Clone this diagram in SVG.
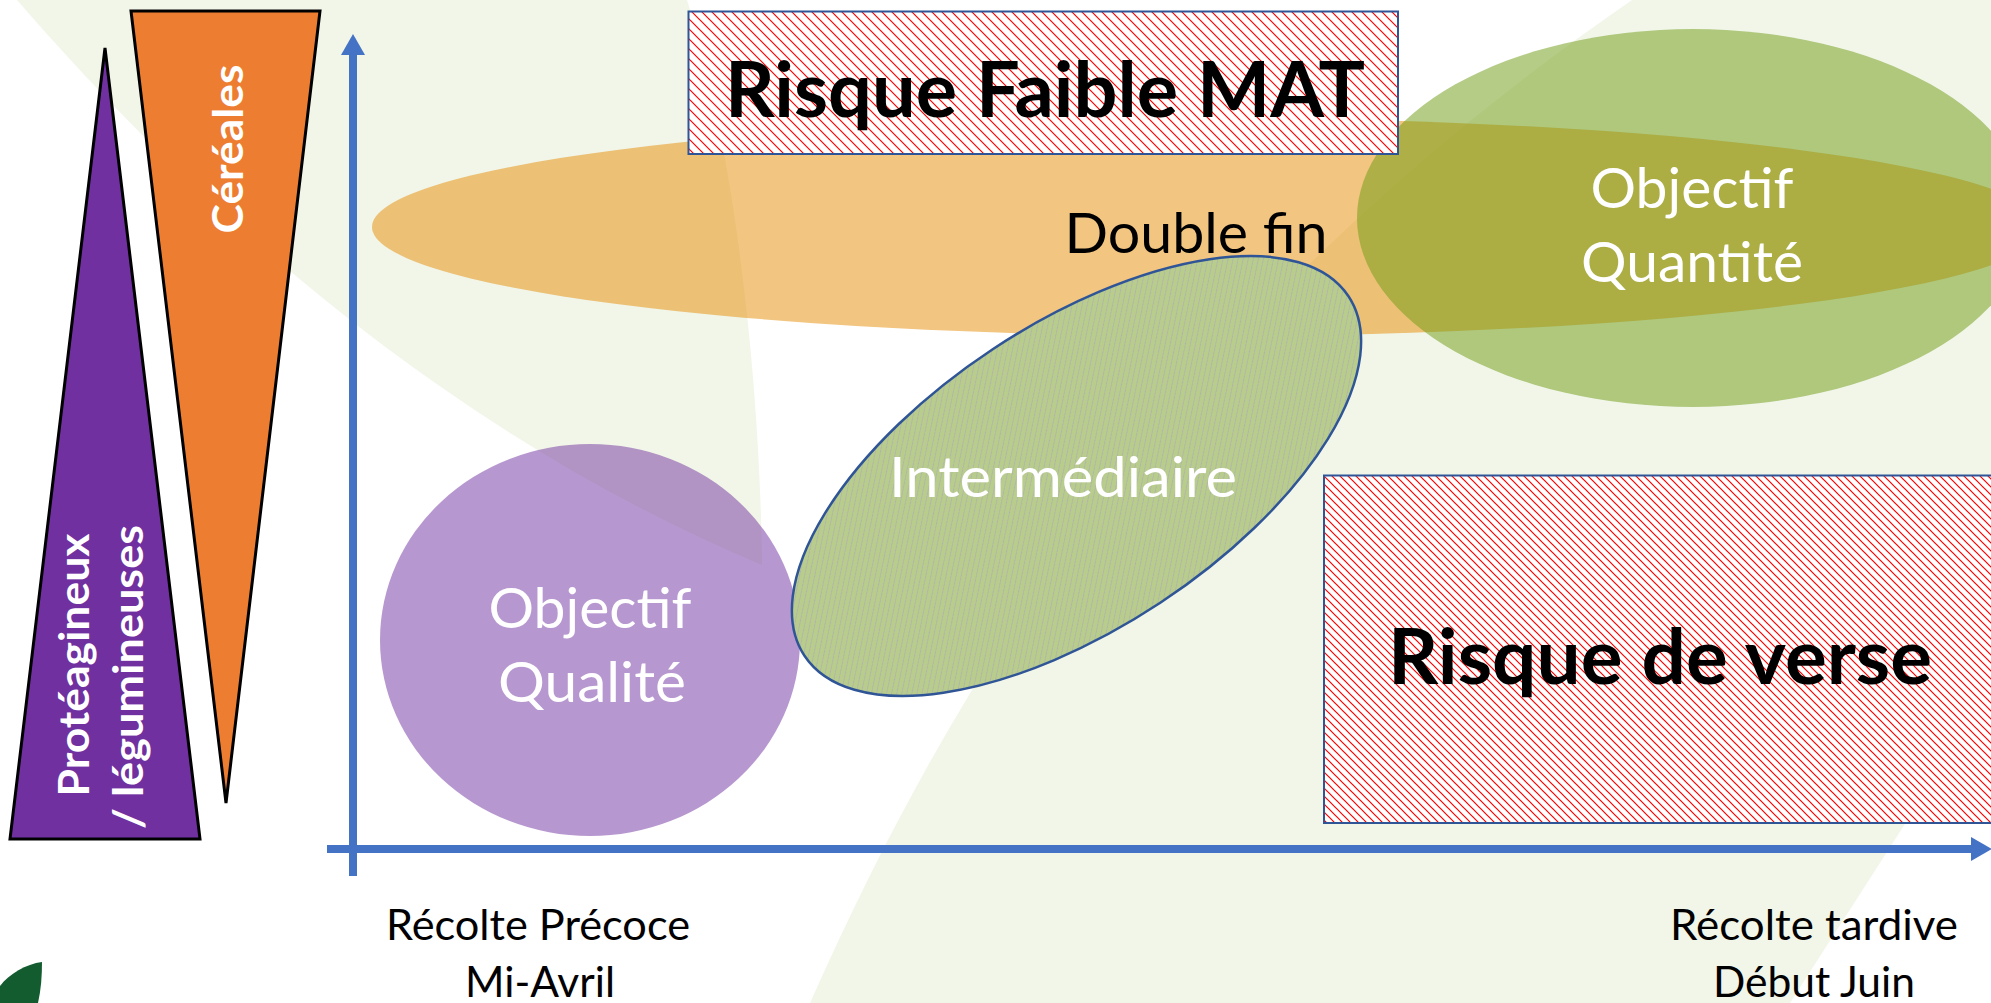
<svg xmlns="http://www.w3.org/2000/svg" width="1991" height="1003" viewBox="0 0 1991 1003">
  <style>
    .sans { font-family: Lato, "Liberation Sans", sans-serif; }
    .white { fill: #FFFFFF; }
    .black { fill: #000000; }
    .zone-lbl { font-size: 56px; text-anchor: middle; }
    .axis-lbl { font-size: 42px; text-anchor: middle; }
    .risk-lbl { font-size: 76px; font-weight: 700; text-anchor: middle; }
    .tri-lbl { font-size: 42px; font-weight: 700; text-anchor: middle; }
    .axis { stroke: #4472C4; stroke-width: 8; fill: none; }
    .bg { fill: #F2F6E9; }
  </style>
  <defs>
    <!-- red downward diagonal hatch on white -->
    <pattern id="hatchRed" patternUnits="userSpaceOnUse" width="10" height="10">
      <rect width="10" height="10" fill="#FFFFFF"/>
      <path d="M0,0 L10,10 M-1,9 L1,11 M9,-1 L11,1" stroke="#FF0000" stroke-width="1.2"/>
    </pattern>
    <pattern id="hatchRedFine" patternUnits="userSpaceOnUse" width="8" height="8">
      <rect width="8" height="8" fill="#FFFFFF"/>
      <path d="M0,0 L8,8 M-1,7 L1,9 M7,-1 L9,1" stroke="#FF0000" stroke-width="1.2"/>
    </pattern>
    <!-- faint purple upward diagonal hatch on green -->
    <pattern id="hatchPurple" patternUnits="userSpaceOnUse" width="7" height="7">
      <rect width="7" height="7" fill="#B8CD8C"/>
      <path d="M0,7 L7,0 M-1,1 L1,-1 M6,8 L8,6" stroke="#A898CC" stroke-width="0.8" stroke-opacity="0.7"/>
    </pattern>
    <marker id="arrow" markerUnits="userSpaceOnUse" markerWidth="22" markerHeight="24" refX="1" refY="12" orient="auto">
      <path d="M0,0 L21,12 L0,24 Z" fill="#4472C4"/>
    </marker>
  </defs>

  <!-- page background -->
  <rect width="1991" height="1003" fill="#FFFFFF"/>
  <g id="backdrop">
    <path class="bg" d="M17,0 C190,200 440,430 762,565 C760,380 735,150 687,0 Z"/>
    <path class="bg" d="M1632,0 L1991,0 L1991,690 L1790,1003 L810,1003 C972,637 1200,298 1632,0 Z"/>
    <path d="M42,962 C26,964 9,974 0,986 L0,1003 L38,1003 C41,990 42,976 42,962 Z" fill="#135C30"/>
  </g>

  <!-- crop family wedges -->
  <g id="wedge-legumes">
    <polygon points="105,48 10,839 200,839" fill="#7030A0" stroke="#000000" stroke-width="3"/>
    <text class="sans tri-lbl white" transform="translate(89,665) rotate(-90)" textLength="263" lengthAdjust="spacingAndGlyphs">Protéagineux</text>
    <text class="sans tri-lbl white" transform="translate(143,677) rotate(-90)" textLength="304" lengthAdjust="spacingAndGlyphs">/ légumineuses</text>
  </g>
  <g id="wedge-cereales">
    <polygon points="131,11 320,11 226,803" fill="#ED7D31" stroke="#000000" stroke-width="3"/>
    <text class="sans tri-lbl white" transform="translate(243,149) rotate(-90)" textLength="169" lengthAdjust="spacingAndGlyphs">Céréales</text>
  </g>

  <!-- zones -->
  <g id="zone-double-fin">
    <ellipse cx="1208" cy="227" rx="836" ry="109" fill="#E58C02" fill-opacity="0.5"/>
  </g>
  <g id="zone-quantite">
    <ellipse cx="1693" cy="218" rx="336" ry="189" fill="#6B9A10" fill-opacity="0.5"/>
    <text class="sans zone-lbl white" x="1692" y="208" textLength="203" lengthAdjust="spacingAndGlyphs">Objectif</text>
    <text class="sans zone-lbl white" x="1692" y="282" textLength="222" lengthAdjust="spacingAndGlyphs">Quantité</text>
  </g>
  <g id="zone-qualite">
    <ellipse cx="590" cy="640" rx="210" ry="196" fill="#7030A0" fill-opacity="0.5"/>
    <text class="sans zone-lbl white" x="590" y="628" textLength="203" lengthAdjust="spacingAndGlyphs">Objectif</text>
    <text class="sans zone-lbl white" x="592" y="702" textLength="188" lengthAdjust="spacingAndGlyphs">Qualité</text>
  </g>

  <!-- axes -->
  <g id="connectors">
    <line class="axis" x1="353" y1="876" x2="353" y2="54" marker-end="url(#arrow)"/>
    <line class="axis" x1="327" y1="849" x2="1972" y2="849" marker-end="url(#arrow)"/>
  </g>

  <g id="zone-intermediaire">
    <ellipse cx="1076.5" cy="476" rx="326" ry="152" transform="rotate(-33.45 1076.5 476)" fill="url(#hatchPurple)" stroke="#2F5597" stroke-width="2.5"/>
    <text class="sans zone-lbl white" x="1063" y="497" textLength="348" lengthAdjust="spacingAndGlyphs">Intermédiaire</text>
  </g>
  <g id="label-double-fin">
    <text class="sans zone-lbl black" x="1196" y="253" textLength="263" lengthAdjust="spacingAndGlyphs">Double fin</text>
  </g>

  <g id="risk-mat">
    <rect x="688.5" y="11.5" width="709.5" height="142.5" fill="url(#hatchRed)" stroke="#2F5597" stroke-width="2"/>
    <text class="sans risk-lbl black" x="1045" y="117" textLength="640" lengthAdjust="spacingAndGlyphs">Risque Faible MAT</text>
  </g>
  <g id="risk-verse">
    <rect x="1324" y="475.5" width="680" height="347.5" fill="url(#hatchRedFine)" stroke="#2F5597" stroke-width="2"/>
    <text class="sans risk-lbl black" x="1660" y="684" textLength="544" lengthAdjust="spacingAndGlyphs">Risque de verse</text>
  </g>

  <!-- harvest date labels -->
  <g id="label-early">
    <text class="sans axis-lbl black" x="538" y="940" textLength="304" lengthAdjust="spacingAndGlyphs">Récolte Précoce</text>
    <text class="sans axis-lbl black" x="540" y="997" textLength="150" lengthAdjust="spacingAndGlyphs">Mi-Avril</text>
  </g>
  <g id="label-late">
    <text class="sans axis-lbl black" x="1814" y="940" textLength="288" lengthAdjust="spacingAndGlyphs">Récolte tardive</text>
    <text class="sans axis-lbl black" x="1814" y="997" textLength="202" lengthAdjust="spacingAndGlyphs">Début Juin</text>
  </g>
</svg>
